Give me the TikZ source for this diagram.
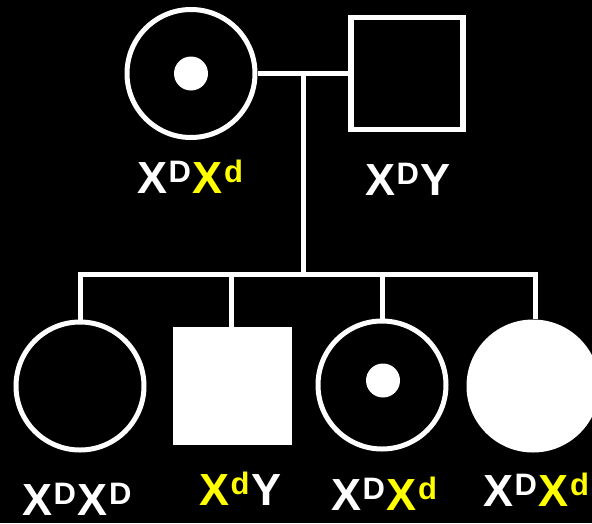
\documentclass[tikz,border=0pt]{standalone}
\usepackage{fontspec}
\setmainfont{Liberation Sans}
\definecolor{yel}{RGB}{255,255,0}
\newcommand\supx[1]{\kern1.5pt{\fontsize{31}{31}\selectfont\raisebox{10.5pt}{#1}}\kern1.5pt}
\newcommand\wX[1]{{\color{white}X\supx{#1}}}
\newcommand\yX[1]{{\color{yel}X\supx{#1}}}
\tikzset{
  line/.style={draw=white, line width=5pt},
  fem/.style={circle, draw=white, line width=5pt, minimum size=128pt, inner sep=0pt},
  femfill/.style={circle, fill=white, minimum size=133pt, inner sep=0pt},
  male/.style={rectangle, draw=white, line width=5.5pt, minimum width=112pt, minimum height=112pt, inner sep=0pt},
  malefill/.style={rectangle, fill=white, minimum width=119pt, minimum height=118pt, inner sep=0pt},
  dot/.style={circle, fill=white, minimum size=34pt, inner sep=0pt},
  lbl/.style={anchor=base west, inner sep=0pt, text=white, font=\fontsize{45}{45}\selectfont\bfseries}
}
\begin{document}
\begin{tikzpicture}[x=1pt,y=-1pt]
\fill[black] (0,0) rectangle (592,523);
\useasboundingbox (0,0) rectangle (592,523);
% parents
\node[fem] (m) at (191,73.5) {};
\node[dot] (mdot) at (m.center) {};
\node[male] (f) at (407,73.5) {};
\coordinate (mid) at (303,73.5);
\coordinate (sibl) at (77.5,274);
\coordinate (sibr) at (537.5,274);
\coordinate (sibm) at (303,274);
\draw[line] (m.east) -- (m.east -| f.west);
\draw[line] (mid) -- (sibm);
\draw[line] (sibl) -- (sibr);
% children
\node[fem] (c1) at (80,386) {};
\node[malefill] (c2) at (232,386) {};
\node[fem] (c3) at (382,385) {};
\node[dot] (c3dot) at (383,380.5) {};
\node[femfill] (c4) at (533,386) {};
\draw[line] (c1.north) -- (c1.north |- sibm);
\draw[line] ([xshift=-1pt]c2.north) -- ([xshift=-1pt]c2.north |- sibm);
\draw[line] (c3.north) -- (c3.north |- sibm);
\draw[line] ([xshift=2pt]c4.north) -- ([xshift=2pt]c4.north |- sibm);
% labels
\node[lbl] (l1) at (137,193) {\wX{D}\yX{d}};
\node[lbl] (l2) at (365,195) {\wX{D}Y};
\node[lbl] (l3) at (22,515) {\wX{D}\wX{D}};
\node[lbl] (l4) at (199,505) {\yX{d}Y};
\node[lbl] (l5) at (331,510) {\wX{D}\yX{d}};
\node[lbl] (l6) at (483,506) {\wX{D}\yX{d}};
\end{tikzpicture}
\end{document}
